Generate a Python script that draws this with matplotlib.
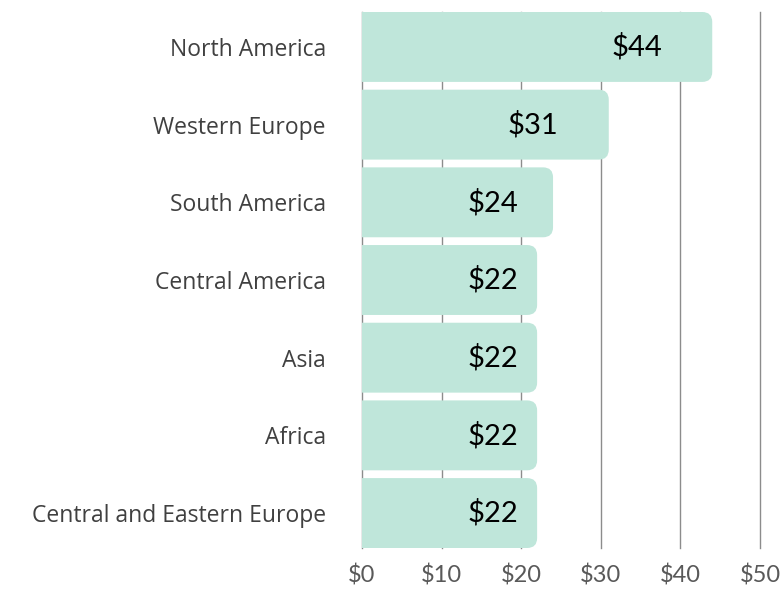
import matplotlib.pyplot as plt
from matplotlib.patches import FancyBboxPatch

plt.rcParams['font.family'] = ['Lato', 'DejaVu Sans']

regions = ['North America', 'Western Europe', 'South America', 'Central America',
           'Asia', 'Africa', 'Central and Eastern Europe']
values = [44, 31, 24, 22, 22, 22, 22]
value_labels = ['$44', '$31', '$24', '$22', '$22', '$22', '$22']
ticks = [0, 10, 20, 30, 40, 50]
tick_labels = ['$0', '$10', '$20', '$30', '$40', '$50']

bar_color = '#bfe6da'
bar_h = 0.9

fig = plt.figure(figsize=(7.8, 5.89), dpi=100)
ax = fig.add_axes([362 / 780, 41 / 589, 398 / 780, 536 / 589])
ax.set_xlim(0, 50)
ax.set_ylim(len(regions) - 0.55, -0.45)

# pixel scale, used to keep the corner rounding circular
x_px = 398 / 50
y_px = 536 / (len(regions) - 0.1)
r = 10 / x_px

for i, v in enumerate(values):
    p = FancyBboxPatch((-3, i - bar_h / 2), v + 3, bar_h,
                       boxstyle='round,pad=0,rounding_size=%f' % r,
                       mutation_aspect=x_px / y_px,
                       facecolor=bar_color, edgecolor='none', zorder=2)
    ax.add_patch(p)
    ax.text(max(v - 9.5, 16.4), i, value_labels[i], ha='center', va='center',
            fontsize=21, color='black', zorder=3)

for t in ticks:
    ax.axvline(t, color='#8c8c8c', lw=1, zorder=1, clip_on=False)

ax.set_xticks(ticks)
ax.set_xticklabels(tick_labels, fontsize=17, color='#595959')
ax.set_yticks(range(len(regions)))
ax.set_yticklabels(regions, fontsize=16.5, color='#404040', family=['Open Sans', 'DejaVu Sans'])
ax.tick_params(length=0)
ax.tick_params(axis='y', pad=26)
ax.tick_params(axis='x', pad=12)
for s in ax.spines.values():
    s.set_visible(False)

plt.savefig('out.png', dpi=100)
